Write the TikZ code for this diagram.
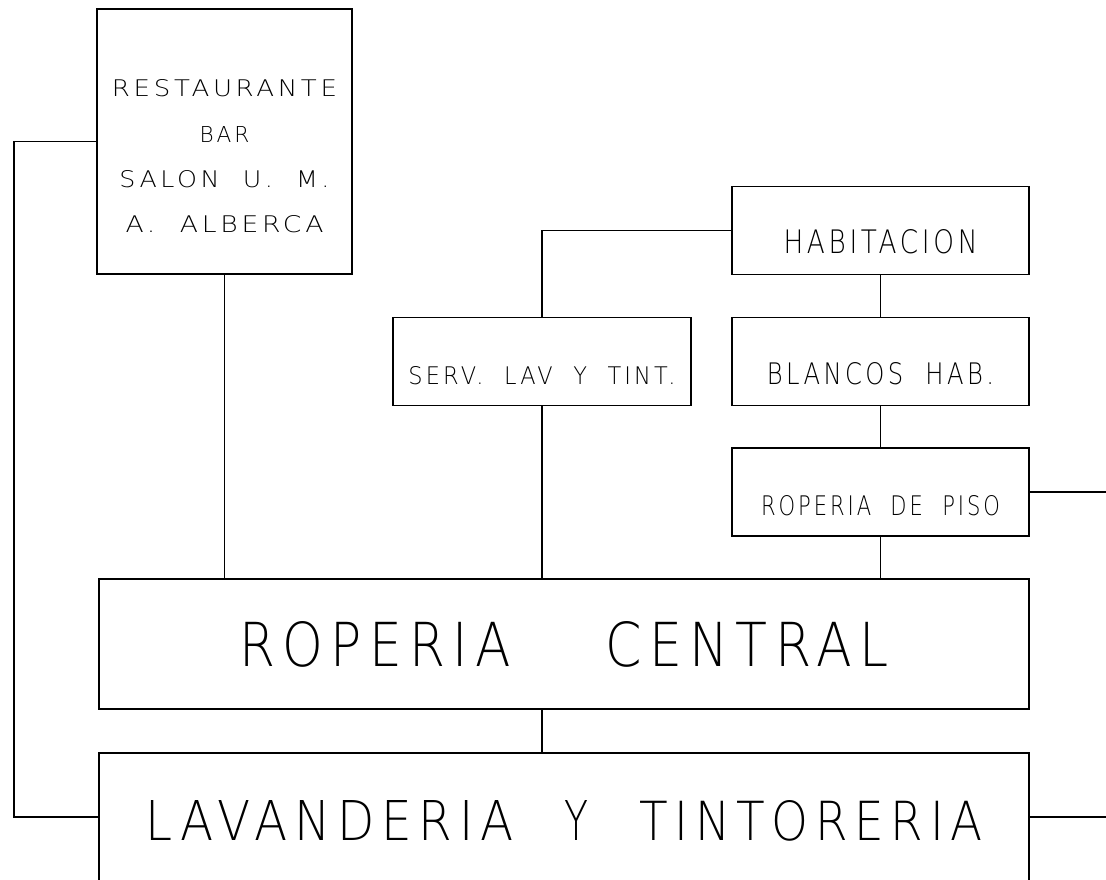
\documentclass[tikz,border=0pt]{standalone}
\usepackage{graphicx}
\usepackage{fontspec}
\IfFontExistsTF{DejaVu Sans ExtraLight}
  {\newfontfamily\plotfont{DejaVu Sans ExtraLight}[LetterSpace=14]}
  {\newfontfamily\plotfont{DejaVu Sans}[LetterSpace=14]}
% plotter lettering: width, cap height, text
\newcommand{\pl}[3]{\resizebox{#1}{#2}{\plotfont #3}}
\begin{document}
\begin{tikzpicture}[
        x=1pt, y=-1pt,
        line width=1.6pt,
        unit/.style={rectangle, draw, inner sep=0pt,
            minimum width=297pt, minimum height=88pt,
            text height=46pt, text depth=0pt},
        wide/.style={rectangle, draw, inner sep=0pt,
            minimum width=930pt},
        link/.style={draw, line width=1.6pt}
      ]
      \useasboundingbox (0,0) rectangle (1106,880);

      \node[rectangle, draw, inner sep=0pt, align=center,
        minimum width=255pt, minimum height=265pt,
        font=\fontsize{20}{45}\selectfont,
        text height=181pt, text depth=0pt]
      (rest) at (224.5,141.5) {\pl{225pt}{17pt}{RESTAURANTE}\\
        \pl{50pt}{16pt}{BAR}\\
        \pl{210pt}{17pt}{SALON\ \ U.\ \ M.}\\
        \pl{198pt}{17pt}{A.\ \ ALBERCA}};

      \node[unit] (hab)  at (880.5,230.5) {\pl{194pt}{24pt}{HABITACION}};
      \node[unit, minimum width=298pt]
      (serv) at (542,361.5) {\pl{267pt}{18pt}{SERV.\ \ LAV\ \ Y\ \ TINT.}};
      \node[unit] (blan) at (880.5,361.5) {\pl{227pt}{22pt}{BLANCOS\ \ HAB.}};
      \node[unit] (piso) at (880.5,492)   {\pl{239pt}{20pt}{ROPERIA\ \ DE\ \ PISO}};

      \node[wide, minimum height=130pt]
      (central) at (564,644) {\pl{271pt}{45pt}{ROPERIA}\hspace{95pt}%
        \pl{283pt}{45pt}{CENTRAL}};
      \node[wide, minimum height=128pt, text height=46pt, text depth=0pt]
      (lav) at (564,817) {\pl{368pt}{40pt}{LAVANDERIA}\hspace{51pt}%
        \pl{24pt}{40pt}{Y}\hspace{51pt}\pl{343pt}{40pt}{TINTORERIA}};

      \coordinate (pisoend) at (1106,492);
      \coordinate (lavend)  at (1106,817);

      \draw[link] (rest.west) -- ++(-82,0) |- (lav.west);
      \draw[link] (rest.south) -- (rest.south |- central.north);
      \draw[link] (hab.west) -| (serv.north);
      \draw[link] (serv.south) -- (serv.south |- central.north);
      \draw[link] (hab.south) -- (blan.north);
      \draw[link] (blan.south) -- (piso.north);
      \draw[link] (piso.south) -- (piso.south |- central.north);
      \draw[link] (piso.east) -- (pisoend);
      \draw[link] (central.south -| serv.south) -- (lav.north -| serv.south);
      \draw[link] (lav.east) -- (lavend);
    \end{tikzpicture}
\end{document}
